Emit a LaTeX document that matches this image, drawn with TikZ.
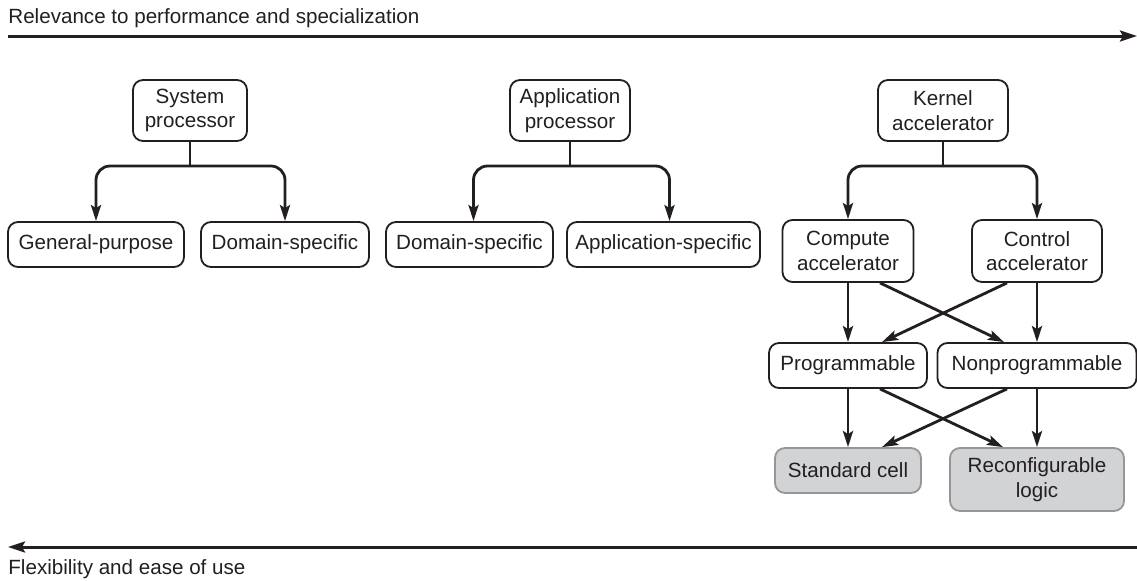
\documentclass[tikz,border=0pt]{standalone}
\usepackage{fontspec}
\setmainfont{Liberation Sans}
\usetikzlibrary{arrows.meta, positioning}
\definecolor{inkDark}{RGB}{35,31,32}
\definecolor{cellGray}{RGB}{210,211,213}
\definecolor{cellEdge}{RGB}{150,150,152}
\tikzset{
  hw/box/.style={rectangle, rounded corners=5pt, draw=inkDark, fill=white,
    line width=0.9pt, align=center, text=inkDark, inner sep=0pt,
    font=\fontsize{10.3}{12.2}\selectfont},
  hw/top/.style={hw/box, minimum height=30.5pt},
  hw/leaf/.style={hw/box, minimum height=22.5pt},
  hw/impl/.style={hw/box, draw=cellEdge, fill=cellGray},
  hw/arr/.style={-{Stealth[length=8pt,width=5pt,inset=1.5pt]},
    line width=1.4pt, draw=inkDark},
  hw/stem/.style={line width=1.4pt, draw=inkDark},
  hw/split/.style={hw/arr, rounded corners=7pt},
  hw/axis/.style={-{Stealth[length=8.5pt,width=5.5pt,inset=1.5pt]},
    line width=1.5pt, draw=inkDark},
  hw/title/.style={font=\fontsize{10.3}{12.2}\selectfont, text=inkDark,
    inner sep=0pt}
}
\begin{document}
\begin{tikzpicture}[x=0.5pt, y=-0.5pt]
  \useasboundingbox (0,0) rectangle (1137,580);

  % axes
  \node[hw/title, anchor=base west] (rel) at (8,23)
        {Relevance to performance and specialization};
  \coordinate (relL) at (8,36);
  \coordinate (relR) at (1137,36);
  \node[hw/title, anchor=base west] (flex) at (8,574)
        {Flexibility and ease of use};
  \coordinate (flexL) at (8,547);
  \coordinate (flexR) at (1137,547);

  % processors
  \node[hw/top, minimum width=57pt] (sys) at (190,110.5) {System\\processor};
  \node[hw/top, minimum width=60pt] (app) at (570,110.5) {Application\\processor};
  \node[hw/top, minimum width=65pt] (ker) at (943,110.5) {Kernel\\accelerator};

  \node[hw/leaf, minimum width=88pt] (gp)  at (96,244.5)    {General-purpose};
  \node[hw/leaf, minimum width=84pt] (ds1) at (285,244.5)   {Domain-specific};
  \node[hw/leaf, minimum width=83.5pt] (ds2) at (469.5,244.5) {Domain-specific};
  \node[hw/leaf, minimum width=96.5pt] (as)  at (663.5,244.5) {Application-specific};

  % accelerators
  \node[hw/box, minimum width=65.5pt, minimum height=31pt] (comp) at (848,251)
        {Compute\\accelerator};
  \node[hw/box, minimum width=65pt, minimum height=31pt] (ctrl) at (1037,251)
        {Control\\accelerator};
  \node[hw/leaf, minimum width=79pt] (prog) at (848,365.5) {Programmable};
  \node[hw/leaf, minimum width=99.5pt] (nonprog) at (1037,365.5) {Nonprogrammable};
  \node[hw/impl, minimum width=73pt, minimum height=22.5pt] (std) at (848,470.5)
        {Standard cell};
  \node[hw/impl, minimum width=87pt, minimum height=31.5pt] (rec) at (1037,479.5)
        {Reconfigurable\\logic};

  \coordinate (sysJ) at (190,166);
  \coordinate (appJ) at (570,166);
  \coordinate (kerJ) at (943,166);

  \draw[hw/axis] (relL) -- (relR);
  \draw[hw/axis] (flexR) -- (flexL);

  \draw[hw/stem]  (sys.south) -- (sysJ);
  \draw[hw/split] (sysJ) -| (gp.north);
  \draw[hw/split] (sysJ) -| (ds1.north);
  \draw[hw/stem]  (app.south) -- (appJ);
  \draw[hw/split] (appJ) -| ([xshift=2pt]ds2.north);
  \draw[hw/split] (appJ) -| ([xshift=3pt]as.north);
  \draw[hw/stem]  (ker.south) -- (kerJ);
  \draw[hw/split] (kerJ) -| (comp.north);
  \draw[hw/split] (kerJ) -| (ctrl.north);

  \draw[hw/arr] (comp.south) -- (prog.north);
  \draw[hw/arr] ([xshift=16pt]comp.south) -- ([xshift=-16.5pt]nonprog.north);
  \draw[hw/arr] ([xshift=-15pt]ctrl.south) -- ([xshift=17pt]prog.north);
  \draw[hw/arr] (ctrl.south) -- (nonprog.north);

  \draw[hw/arr] (prog.south) -- (std.north);
  \draw[hw/arr] ([xshift=16pt]prog.south) -- ([xshift=-17pt]rec.north);
  \draw[hw/arr] ([xshift=-15pt]nonprog.south) -- ([xshift=17pt]std.north);
  \draw[hw/arr] (nonprog.south) -- (rec.north);
\end{tikzpicture}
\end{document}
